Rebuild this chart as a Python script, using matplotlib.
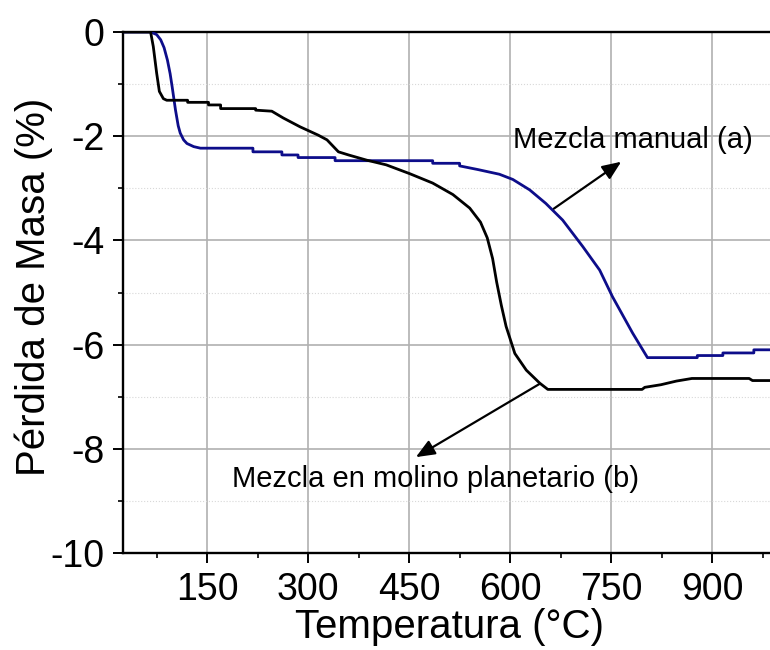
import matplotlib
matplotlib.use("Agg")
import matplotlib.pyplot as plt
from matplotlib.ticker import MultipleLocator

plt.rcParams['font.family'] = ['Liberation Sans', 'DejaVu Sans']

# Mezcla en molino planetario (b) - black curve
temp_b = [25, 66, 70, 75, 79, 85, 90, 121, 121, 152, 152, 170, 170, 222, 222, 246,
          263, 288, 315, 328, 345, 360, 387, 416, 451, 485, 515, 540, 556, 566, 574,
          580, 587, 594, 607, 624, 644, 656, 796, 800, 824, 847, 870, 955, 960, 986]
mass_b = [0, 0, -0.28, -0.79, -1.14, -1.28, -1.31, -1.31, -1.35, -1.35, -1.40, -1.40,
          -1.47, -1.47, -1.50, -1.52, -1.65, -1.82, -1.98, -2.07, -2.30, -2.36, -2.46,
          -2.55, -2.72, -2.90, -3.12, -3.38, -3.65, -3.95, -4.35, -4.80, -5.25, -5.65,
          -6.17, -6.49, -6.74, -6.86, -6.86, -6.82, -6.77, -6.70, -6.65, -6.65, -6.69,
          -6.69]

# Mezcla manual (a) - blue curve
temp_a = [25, 66, 75, 81, 86, 91, 95, 98, 103, 107, 110, 115, 120, 130, 140, 218, 218,
          261, 261, 285, 285, 340, 340, 485, 485, 525, 525, 552, 584, 604, 629, 653,
          678, 708, 733, 752, 782, 804, 878, 878, 916, 916, 962, 962, 986]
mass_a = [0, 0, -0.05, -0.15, -0.30, -0.54, -0.80, -1.05, -1.50, -1.80, -1.94, -2.07,
          -2.14, -2.20, -2.23, -2.23, -2.30, -2.30, -2.36, -2.36, -2.41, -2.41, -2.47,
          -2.47, -2.52, -2.52, -2.57, -2.64, -2.73, -2.83, -3.03, -3.29, -3.61, -4.12,
          -4.57, -5.08, -5.78, -6.25, -6.25, -6.21, -6.21, -6.16, -6.16, -6.10, -6.10]

x_ticks = [150, 300, 450, 600, 750, 900]
y_ticks = [0, -2, -4, -6, -8, -10]

label_a = "Mezcla manual (a)"
label_b = "Mezcla en molino planetario (b)"

fig = plt.figure(figsize=(7.7, 6.5), dpi=100)
ax = fig.add_axes([123/770, 97/650, 647/770, 521/650])

ax.plot(temp_a, mass_a, color='#0d0d8a', lw=2.0, zorder=3)
ax.plot(temp_b, mass_b, color='black', lw=2.0, zorder=3)

ax.set_xlim(25, 986)
ax.set_ylim(-10, 0)
ax.set_xticks(x_ticks)
ax.set_yticks(y_ticks)
ax.set_yticklabels([str(v) for v in y_ticks])
ax.xaxis.set_minor_locator(MultipleLocator(75))
ax.yaxis.set_minor_locator(MultipleLocator(1))

ax.grid(which='major', color='#b0b0b0', lw=1.2, zorder=0)
ax.grid(which='minor', axis='y', color='#d8d8d8', lw=0.8, ls=':', zorder=0)
ax.set_axisbelow(True)

for s in ['left', 'bottom', 'top']:
    ax.spines[s].set_linewidth(1.7)
ax.spines['right'].set_visible(False)

ax.tick_params(which='major', direction='out', length=7.5, width=1.4,
               labelsize=27, pad=6)
ax.tick_params(which='minor', direction='out', length=3.6, width=1.2)
ax.tick_params(top=False, right=False, which='both')

ax.set_xlabel("Temperatura (°C)", fontsize=29, va='center')
ax.xaxis.set_label_coords(0.505, -0.142)
ax.set_ylabel("Pérdida de Masa (%)", fontsize=29, va='center')
ax.yaxis.set_label_coords(-0.138, 0.51)

arrow = dict(arrowstyle='-|>,head_length=0.6,head_width=0.25', color='black',
             lw=1.6, mutation_scale=19, shrinkA=0, shrinkB=0)
ax.annotate("", xy=(765, -2.49), xytext=(665, -3.39), arrowprops=arrow, zorder=4)
ax.annotate("", xy=(460, -8.16), xytext=(643, -6.76), arrowprops=arrow, zorder=4)
ax.text(783, -2.07, label_a, fontsize=21, ha='center', va='center')
ax.text(489, -8.58, label_b, fontsize=21, ha='center', va='center')

fig.savefig("out.png", dpi=100)
